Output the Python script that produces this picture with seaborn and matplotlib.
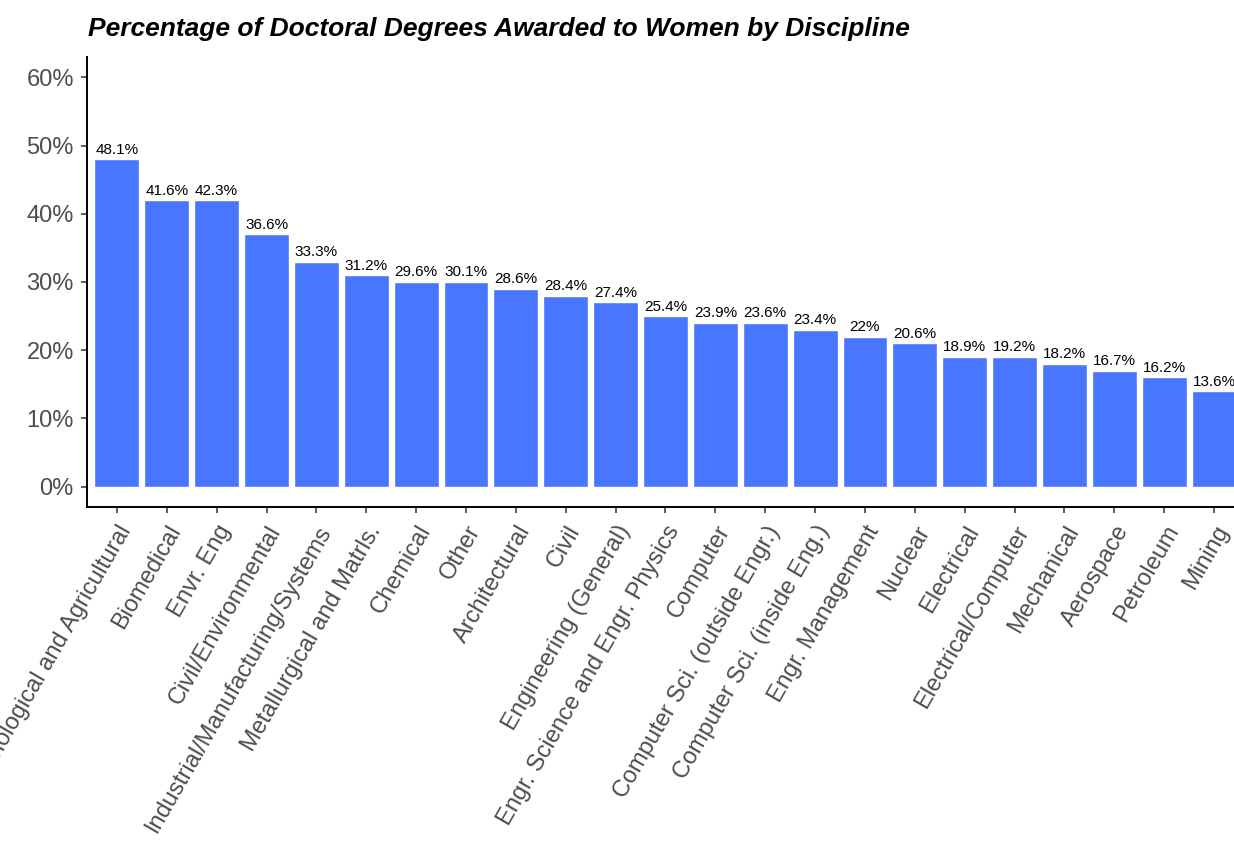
import matplotlib
matplotlib.use("Agg")
import matplotlib.pyplot as plt
import seaborn as sns
import pandas as pd
import numpy as np

disciplines = [
    "Biological and Agricultural", "Biomedical", "Envr. Eng", "Civil/Environmental",
    "Industrial/Manufacturing/Systems", "Metallurgical and Matrls.", "Chemical", "Other",
    "Architectural", "Civil", "Engineering (General)", "Engr. Science and Engr. Physics",
    "Computer", "Computer Sci. (outside Engr.)", "Computer Sci. (inside Eng.)",
    "Engr. Management", "Nuclear", "Electrical", "Electrical/Computer", "Mechanical",
    "Aerospace", "Petroleum", "Mining",
]
# bar heights as drawn (whole percent)
bar_heights = [48, 42, 42, 37, 33, 31, 30, 30, 29, 28, 27, 25, 24, 24, 23, 22, 21, 19, 19, 18, 17, 16, 14]
# value labels printed above bars
label_values = [48.1, 41.6, 42.3, 36.6, 33.3, 31.2, 29.6, 30.1, 28.6, 28.4, 27.4, 25.4,
                23.9, 23.6, 23.4, 22, 20.6, 18.9, 19.2, 18.2, 16.7, 16.2, 13.6]
y_ticks = [0, 10, 20, 30, 40, 50, 60]
title = "Percentage of Doctoral Degrees Awarded to Women by Discipline"

df = pd.DataFrame({"discipline": disciplines, "pct": bar_heights, "label": label_values})

sns.set_theme(style="ticks")
plt.rcParams["font.family"] = ["Liberation Sans", "DejaVu Sans"]

fig = plt.figure(figsize=(12.34, 8.48), dpi=100)
ax = fig.add_axes([87 / 1234, 1 - 507 / 848, 1 - 87 / 1234, (507 - 57) / 848])

sns.barplot(data=df, x="discipline", y="pct", order=disciplines, color="#4876FF",
            saturation=1, width=0.9, ax=ax)

for i, (h, lab) in enumerate(zip(bar_heights, label_values)):
    txt = f"{lab:g}%"
    ax.annotate(txt, xy=(i, h), xytext=(0, 4), textcoords="offset points",
                ha="center", va="baseline", fontsize=11, color="black",
                annotation_clip=False)

ax.set_xlim(-0.6, 22.4)
ax.set_ylim(-3, 63)
ax.set_yticks(y_ticks)
ax.set_yticklabels([f"{t}%" for t in y_ticks])
ax.set_xlabel("")
ax.set_ylabel("")

for s in ["top", "right"]:
    ax.spines[s].set_visible(False)
for s in ["left", "bottom"]:
    ax.spines[s].set_linewidth(1.4)
    ax.spines[s].set_color("black")

ax.tick_params(axis="both", length=4.5, width=1.1, color="#333333", labelcolor="#4D4D4D",
               labelsize=17)
ax.tick_params(axis="y", pad=5)
ax.tick_params(axis="x", pad=6)
plt.setp(ax.get_xticklabels(), rotation=60, ha="right", va="top", rotation_mode="anchor")

fig.text(88 / 1234, 1 - 36 / 848, title, fontsize=19, fontweight="bold", fontstyle="italic",
         ha="left", va="baseline", color="black")

fig.savefig("out.png", dpi=100)
